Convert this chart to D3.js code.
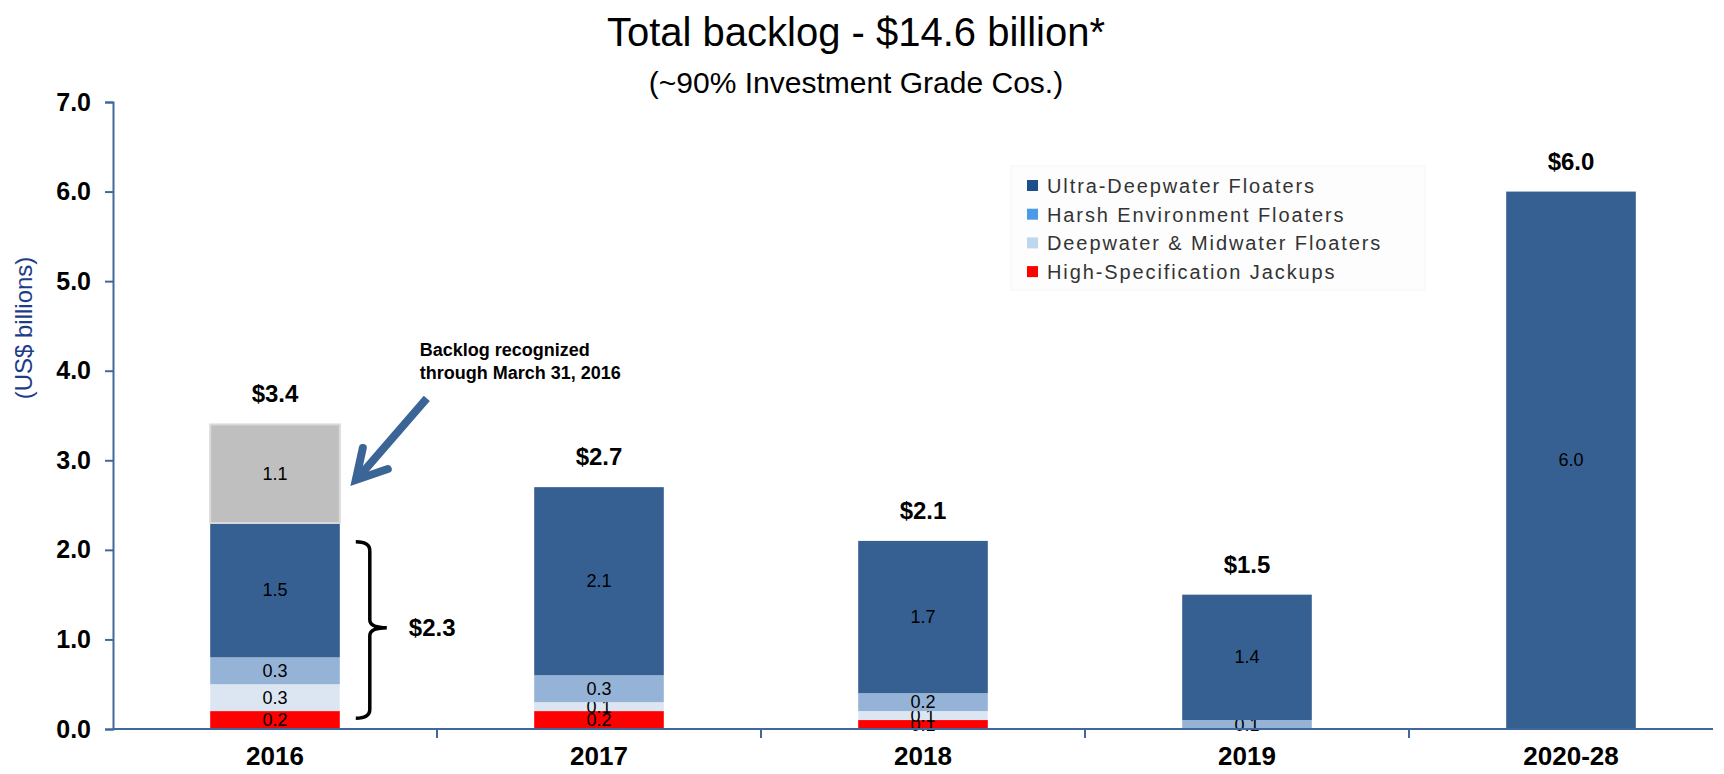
<!DOCTYPE html>
<html lang="en">
  <head>
    <meta charset="UTF-8" />
    <title>Total backlog</title>
    <style>
      body {
        margin: 0;
        font-family: "Liberation Sans", Arial, sans-serif;
        background-color: #fff;
      }
      svg {
        display: block;
      }
      .axis path,
      .axis line {
        stroke: #41689b;
        stroke-width: 2;
      }
      .axis text {
        font-size: 25px;
        font-weight: bold;
        fill: #000;
      }
      .seg-label {
        font-size: 18px;
        fill: #000;
      }
      .total-label {
        font-size: 24px;
        font-weight: bold;
        fill: #000;
      }
      .legend text {
        font-size: 20px;
        fill: #333;
        letter-spacing: 1.9px;
      }
    </style>
  </head>
  <body>
    <svg width="1724" height="774"></svg>
    <script src="https://d3js.org/d3.v7.min.js"></script>
    <script>
      const width = 1724,
        height = 774;
      const svg = d3.select("svg");

      // data
      const years = ["2016", "2017", "2018", "2019", "2020-28"];
      const jackups = [0.2, 0.2, 0.1, 0, 0];
      const deepMidwater = [0.3, 0.1, 0.1, 0, 0];
      const harsh = [0.3, 0.3, 0.2, 0.1, 0];
      const ultraDeep = [1.5, 2.1, 1.7, 1.4, 6.0];
      const recognized = [1.1, 0, 0, 0, 0];
      const totals = ["$3.4", "$2.7", "$2.1", "$1.5", "$6.0"];
      const yTicks = [0, 1, 2, 3, 4, 5, 6, 7];

      const seriesNames = ["jackups", "deepMidwater", "harsh", "ultraDeep", "recognized"];
      const barColors = ["#ff0000", "#dce6f2", "#95b3d7", "#366092", "#bfbfbf"];
      const legendNames = [
        "Ultra-Deepwater Floaters",
        "Harsh Environment Floaters",
        "Deepwater & Midwater Floaters",
        "High-Specification Jackups",
      ];
      const legendColors = ["#1f4e8c", "#4a9ae8", "#bdd7ee", "#ff0000"];

      const rows = years.map((y, i) => ({
        year: y,
        jackups: jackups[i],
        deepMidwater: deepMidwater[i],
        harsh: harsh[i],
        ultraDeep: ultraDeep[i],
        recognized: recognized[i],
        total: totals[i],
      }));

      const x = d3.scaleBand().domain(years).range([113, 1733]).padding(0);
      const y = d3.scaleLinear().domain([0, 7]).range([729, 102]);
      const barW = x.bandwidth() * 0.4;
      const barX = (d) => x(d) + (x.bandwidth() - barW) / 2;

      // title
      svg
        .append("text")
        .attr("x", 856)
        .attr("y", 46)
        .attr("text-anchor", "middle")
        .style("font-size", "40px")
        .text("Total backlog - $14.6 billion*");
      svg
        .append("text")
        .attr("x", 856)
        .attr("y", 93)
        .attr("text-anchor", "middle")
        .style("font-size", "30px")
        .text("(~90% Investment Grade Cos.)");

      // y label
      svg
        .append("text")
        .attr("transform", "translate(32,328) rotate(-90)")
        .attr("text-anchor", "middle")
        .style("font-size", "24px")
        .style("fill", "#1f3c88")
        .text("(US$ billions)");

      // stacked bars
      const stack = d3.stack().keys(seriesNames)(rows);

      const layer = svg
        .append("g")
        .selectAll("g")
        .data(stack)
        .join("g")
        .attr("fill", (d, i) => barColors[i]);

      layer
        .selectAll("rect")
        .data((d) => d.filter((s) => s[1] - s[0] > 0))
        .join("rect")
        .attr("x", (d) => barX(d.data.year))
        .attr("y", (d) => y(d[1]))
        .attr("width", barW)
        .attr("height", (d) => y(d[0]) - y(d[1]))
        .attr("stroke", function () {
          return d3.select(this.parentNode).datum().key === "recognized" ? "#d9d9d9" : "none";
        })
        .attr("stroke-width", 2);

      layer
        .selectAll("text")
        .data((d) => d.filter((s) => s[1] - s[0] > 0))
        .join("text")
        .attr("class", "seg-label")
        .attr("text-anchor", "middle")
        .attr("x", (d) => x(d.data.year) + x.bandwidth() / 2)
        .attr("y", (d) => (y(d[0]) + y(d[1])) / 2 + 6)
        .text((d) => (d[1] - d[0]).toFixed(1));

      // totals
      const topLayer = stack[stack.length - 1];
      svg
        .append("g")
        .selectAll("text")
        .data(topLayer)
        .join("text")
        .attr("class", "total-label")
        .attr("text-anchor", "middle")
        .attr("x", (d) => x(d.data.year) + x.bandwidth() / 2)
        .attr("y", (d) => y(d[1]) - 22)
        .text((d) => d.data.total);

      // axes
      svg
        .append("g")
        .attr("class", "axis")
        .attr("transform", "translate(113,0)")
        .call(
          d3
            .axisLeft(y)
            .tickValues(yTicks)
            .tickFormat(d3.format(".1f"))
            .tickSizeOuter(0)
            .tickSize(8)
            .tickPadding(14)
        );

      const xAxis = svg
        .append("g")
        .attr("class", "axis")
        .attr("transform", "translate(0,729)")
        .call(d3.axisBottom(x).tickSize(0).tickSizeOuter(0).tickPadding(14));
      xAxis.select(".domain").attr("d", "M113,0H1713");
      xAxis
        .selectAll(".sep")
        .data(years.slice(1))
        .join("line")
        .attr("class", "sep")
        .attr("x1", (d) => x(d))
        .attr("x2", (d) => x(d))
        .attr("y1", 0)
        .attr("y2", 9);
      xAxis.selectAll(".tick text").attr("dy", "0.85em").style("font-size", "26px");

      // legend
      const legend = svg.append("g").attr("class", "legend").attr("transform", "translate(1011,166)");
      legend
        .append("rect")
        .attr("width", 414)
        .attr("height", 124)
        .attr("fill", "#fdfdfd")
        .attr("stroke", "#f5f5f5");
      const li = legend
        .selectAll(".item")
        .data(legendNames)
        .join("g")
        .attr("class", "item")
        .attr("transform", (d, i) => `translate(16,${20 + i * 28.7})`);
      li.append("rect")
        .attr("y", -6)
        .attr("width", 11)
        .attr("height", 11)
        .attr("fill", (d, i) => legendColors[i]);
      li.append("text").attr("x", 20).attr("y", 7).text((d) => d);

      // annotation: arrow to recognized part
      const bx = barX("2016") + barW;
      const tipX = bx + 16,
        tipY = y(2.78);
      const tailX = bx + 87,
        tailY = y(3.69);
      const arrowColor = "#3a6596";
      svg
        .append("line")
        .attr("x1", tailX)
        .attr("y1", tailY)
        .attr("x2", tipX + 3)
        .attr("y2", tipY - 3)
        .attr("stroke", arrowColor)
        .attr("stroke-width", 8);
      svg
        .append("path")
        .attr("d", `M${tipX + 7},${tipY - 32} L${tipX},${tipY} L${tipX + 32},${tipY - 11}`)
        .attr("fill", "none")
        .attr("stroke", arrowColor)
        .attr("stroke-width", 8)
        .attr("stroke-linejoin", "miter")
        .attr("stroke-linecap", "round");

      svg
        .append("text")
        .attr("y", 356)
        .style("font-size", "18px")
        .style("font-weight", "bold")
        .selectAll("tspan")
        .data(["Backlog recognized", "through March 31, 2016"])
        .join("tspan")
        .attr("x", bx + 80)
        .attr("dy", (d, i) => (i ? 23 : 0))
        .text((d) => d);

      // brace for remaining 2016 backlog
      const bL = bx + 16,
        bM = bx + 30,
        bR = bx + 47;
      const bTop = y(2.09),
        bBot = y(0.12),
        bMid = y(1.13);
      svg
        .append("path")
        .attr(
          "d",
          `M${bL},${bTop} Q${bM},${bTop} ${bM},${bTop + 9} L${bM},${bMid - 8} Q${bM},${bMid} ${bR},${bMid}` +
            ` Q${bM},${bMid} ${bM},${bMid + 8} L${bM},${bBot - 9} Q${bM},${bBot} ${bL},${bBot}`
        )
        .attr("fill", "none")
        .attr("stroke", "#000")
        .attr("stroke-width", 3.5);
      svg
        .append("text")
        .attr("x", bx + 69)
        .attr("y", bMid + 8)
        .style("font-size", "24px")
        .style("font-weight", "bold")
        .text("$2.3");
    </script>
  </body>
</html>
